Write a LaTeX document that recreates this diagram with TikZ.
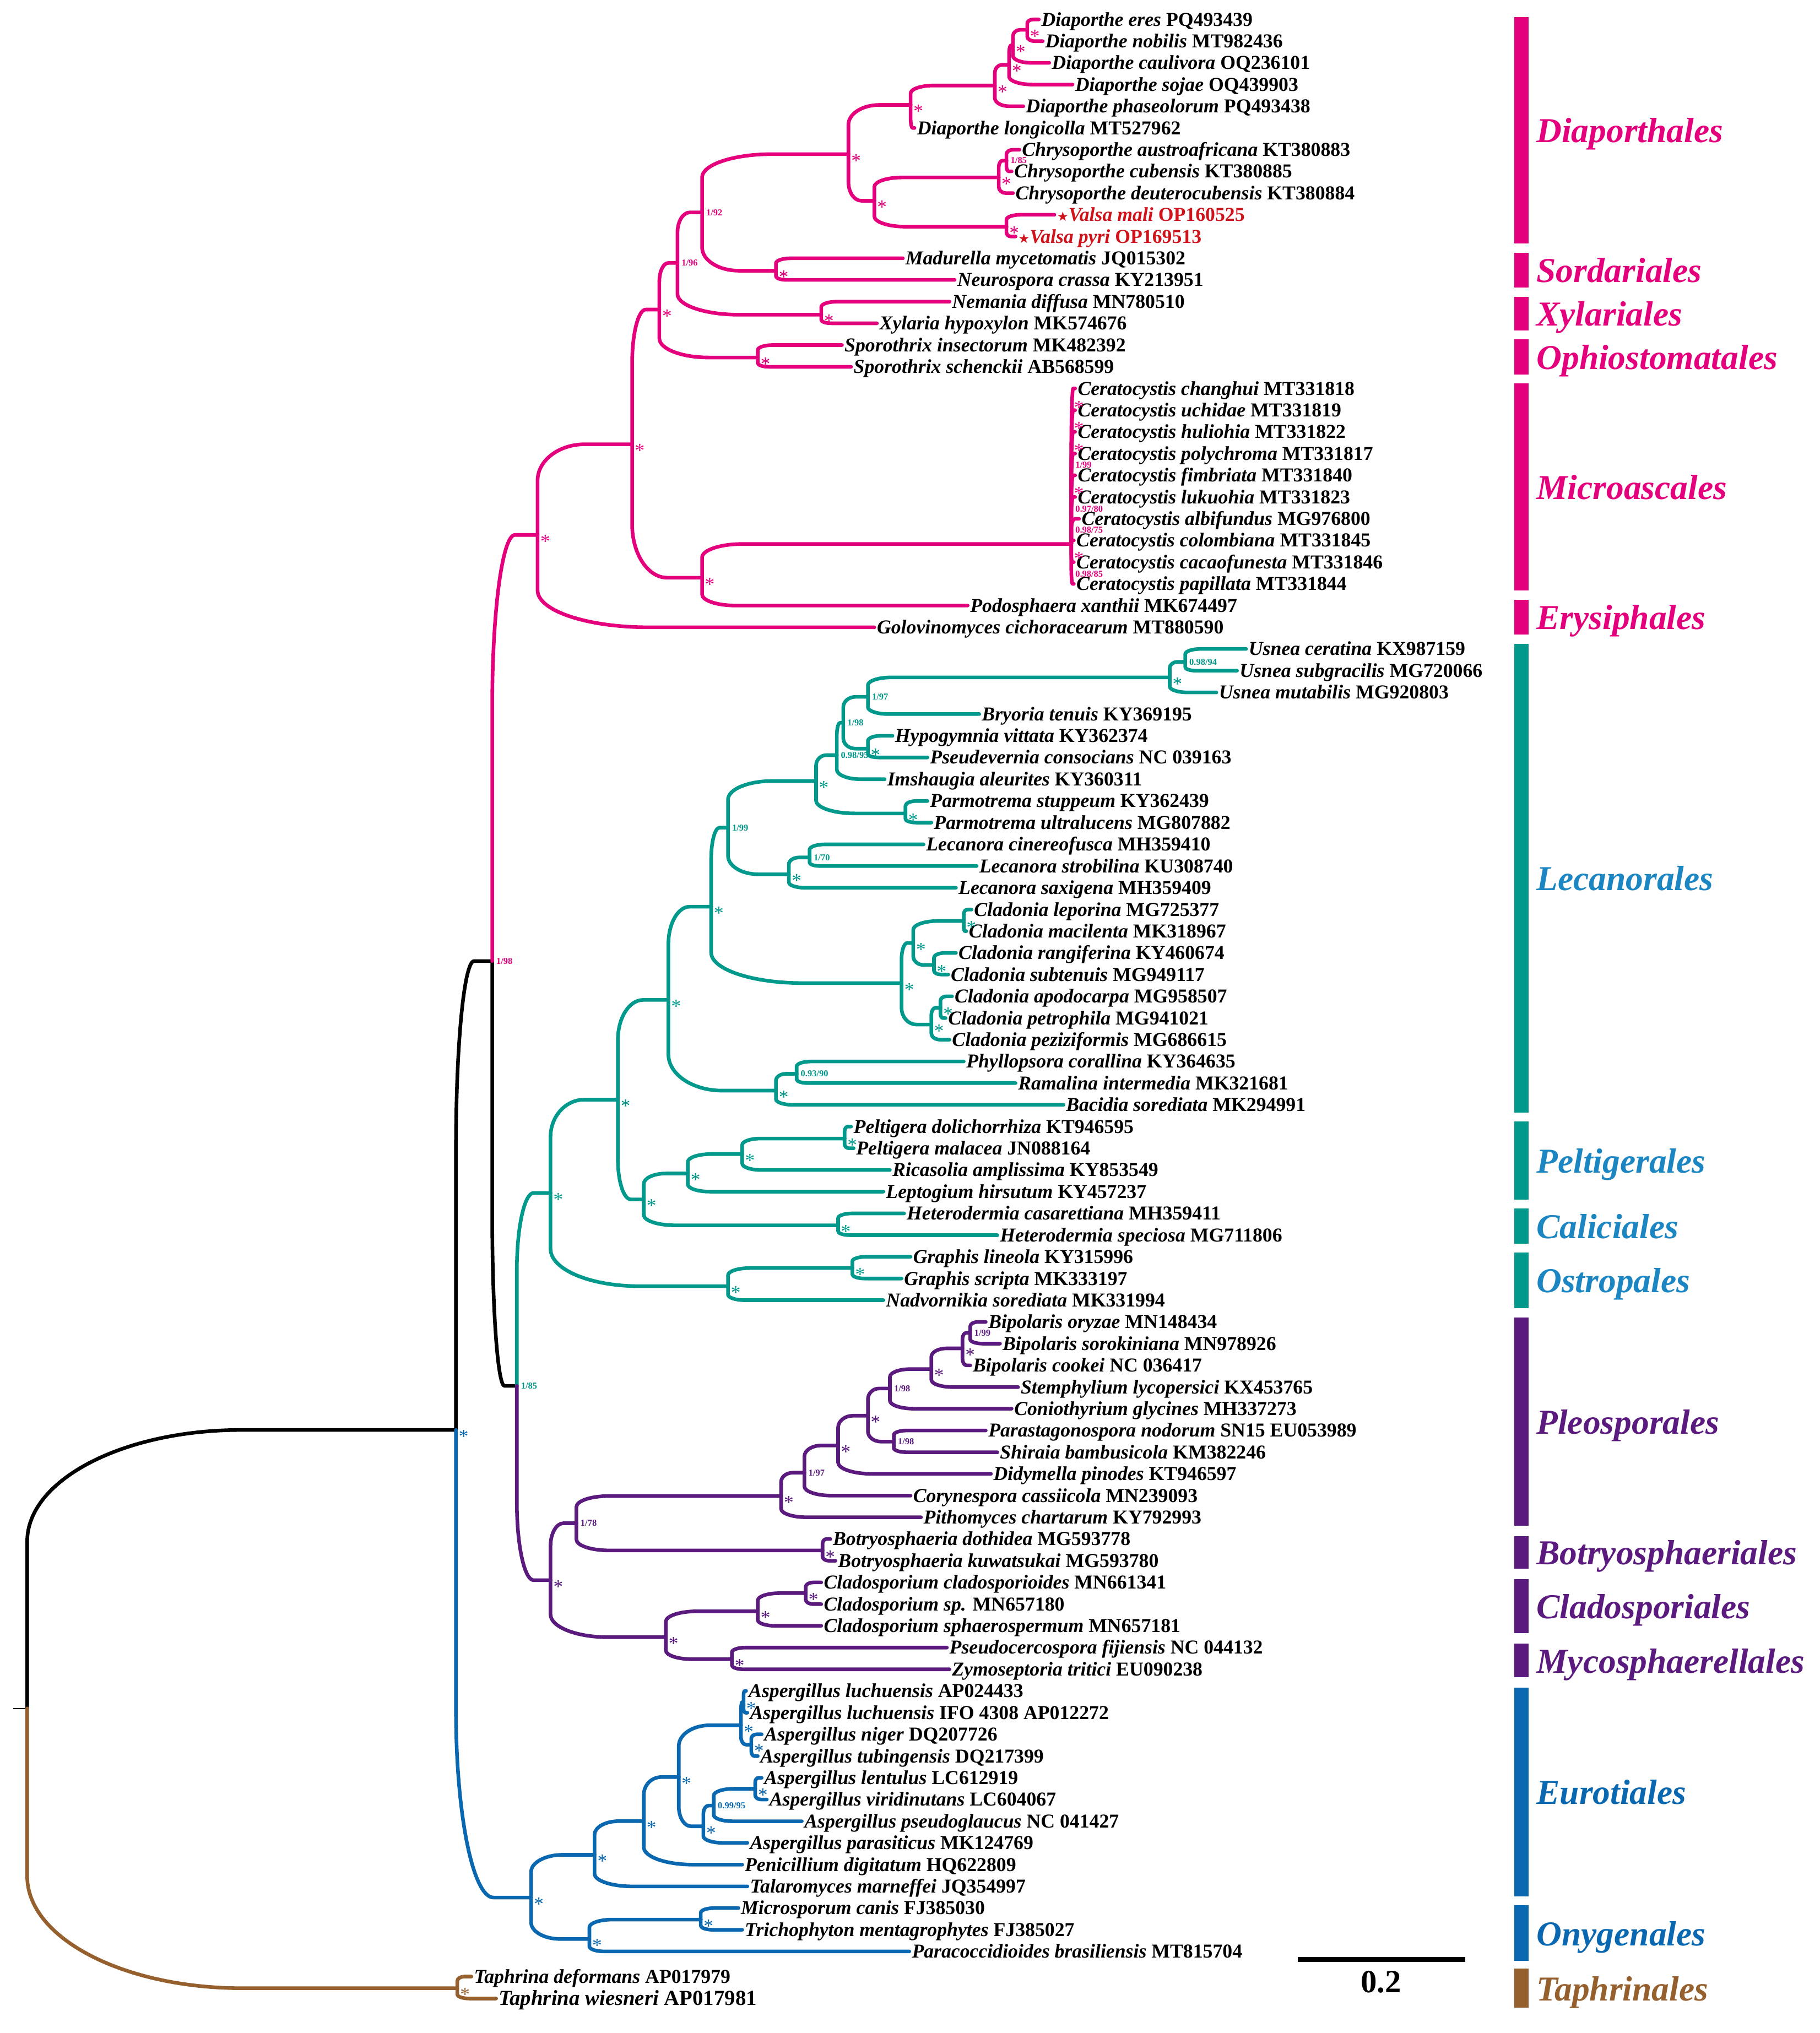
\documentclass[tikz,border=0pt]{standalone}
\usepackage{fontspec}
\setmainfont{Liberation Serif}
\newfontfamily\symf{DejaVu Sans}
\usetikzlibrary{calc}
\definecolor{cMag}{HTML}{E4007C}
\definecolor{cTeal}{HTML}{00998C}
\definecolor{cPur}{HTML}{5A1A7E}
\definecolor{cBlu}{HTML}{0A68B0}
\definecolor{cLbl}{HTML}{1C86C2}
\definecolor{cBrn}{HTML}{96602E}
\definecolor{cRed}{HTML}{D0121B}
\tikzset{
 br/.style={line width=2.8pt,line cap=round,line join=round},
 lf/.style={anchor=base west,inner sep=0pt,xshift=1.8pt,yshift=-5pt,font=\fontsize{15.2}{16}\selectfont\bfseries},
 ast/.style={anchor=west,inner sep=0pt,xshift=2pt,yshift=-5pt,font=\fontsize{15}{15}\selectfont},
 bs/.style={anchor=west,inner sep=0pt,xshift=3pt,font=\fontsize{7}{8}\selectfont\bfseries},
 ord/.style={anchor=base west,inner sep=0pt,font=\fontsize{27}{28}\selectfont\bfseries\itshape},
}
\newcommand\Edge[3][]{\draw[br,#1] let \p1=(#2), \p2=(#3), \n1={min(0.5*(\x2-\x1),1.2*abs(\y2-\y1))}, \n2={\y2-\y1} in
  (\p1) -- (\x1,{\y1+0.6*\n2}) .. controls (\x1,{\y2-0.1792*\n2}) and ({\x1+0.448*\n1},\y2) .. ({\x1+\n1},\y2) -- (\p2);}
\newcommand\Lf[5]{\coordinate (t#1) at (#2,#3); \node[lf] (l#1) at (t#1) {\textit{#4} #5};}
\newcommand\Ast[2]{\node[ast,text=#1] (s#2) at (#2) {*};}
\newcommand\Bs[3]{\node[bs,text=#1] (s#2) at (#2) {#3};}
\newcommand\Ord[5]{\fill[#4] (1169,#1) rectangle (1180,#2); \node[ord,text=#5] (o#3) at (1186,{(#1+#2)/2+9.5}) {#3};}
\begin{document}
\begin{tikzpicture}[x=1pt,y=-1pt]
\useasboundingbox (0,0) rectangle (1405,1569.6);
% ---------- internal nodes
\coordinate (rs) at (10,1319);
\coordinate (R) at (21,1319);
\coordinate (B) at (352,1104);
\coordinate (A) at (380,742);
\coordinate (D) at (399,1070);
\coordinate (P1) at (415,413);
\coordinate (P2) at (488,343);
\coordinate (P3) at (509,239);
\coordinate (P5) at (523,203);
\coordinate (P6) at (542,164);
\coordinate (DP) at (655,119);
\coordinate (ND) at (703,81);
\coordinate (ND2) at (768,66);
\coordinate (ND3) at (779,50);
\coordinate (ND4) at (782,35);
\coordinate (ND5) at (793,23);
\coordinate (CV) at (675,155);
\coordinate (CH) at (771,137);
\coordinate (CH2) at (777,124);
\coordinate (VA) at (777,175);
\coordinate (S) at (599,209);
\coordinate (X) at (634,243);
\coordinate (O) at (585,276);
\coordinate (P4) at (542,446);
\coordinate (M) at (827,420);
\coordinate (L1) at (425,921);
\coordinate (L2) at (477,849);
\coordinate (L3) at (516,772);
\coordinate (L4) at (497,926);
\coordinate (L5) at (549,700);
\coordinate (L6) at (599,842);
\coordinate (L6a) at (615,829);
\coordinate (L7) at (562,639);
\coordinate (L8) at (630,603);
\coordinate (L9) at (646,583);
\coordinate (L10) at (651,558);
\coordinate (L11) at (670,538);
\coordinate (U) at (903,523);
\coordinate (U2) at (915,511);
\coordinate (H) at (670,578);
\coordinate (PM) at (699,628);
\coordinate (LE) at (609,675);
\coordinate (LE2) at (625,662);
\coordinate (CL) at (696,759);
\coordinate (CL1) at (705,728);
\coordinate (CL1a) at (744,711);
\coordinate (CL1b) at (721,745);
\coordinate (CL2) at (719,791);
\coordinate (CL2a) at (726,778);
\coordinate (PE) at (531,906);
\coordinate (PE1) at (573,891);
\coordinate (PE2) at (652,879);
\coordinate (CA) at (647,946);
\coordinate (OS) at (562,993);
\coordinate (OS1) at (658,979);
\coordinate (PD) at (425,1220);
\coordinate (PD1) at (445,1176);
\coordinate (PL) at (603,1155);
\coordinate (PL1) at (621,1137);
\coordinate (PL2) at (647,1116);
\coordinate (PL3) at (670,1093);
\coordinate (PL4) at (687,1072);
\coordinate (PL5) at (690,1113);
\coordinate (PL6) at (719,1057);
\coordinate (BI) at (743,1041);
\coordinate (BI2) at (749,1029);
\coordinate (BO) at (635,1197);
\coordinate (PD2) at (514,1264);
\coordinate (CD) at (585,1244);
\coordinate (CD1) at (622,1230);
\coordinate (MY) at (565,1281);
\coordinate (E) at (410,1465);
\coordinate (Eu) at (459,1432);
\coordinate (Eu2) at (497,1406);
\coordinate (Eu3) at (524,1372);
\coordinate (AS1) at (572,1332);
\coordinate (AS5) at (574,1314);
\coordinate (AS6) at (580,1347);
\coordinate (AS2) at (543,1410);
\coordinate (AS3) at (551,1394);
\coordinate (AS4) at (583,1381);
\coordinate (On) at (455,1497);
\coordinate (On1) at (541,1482);
\coordinate (T) at (353,1535);
% ---------- leaves
\Lf{1}{802}{15.0}{Diaporthe eres}{PQ493439}
\Lf{2}{805}{31.8}{Diaporthe nobilis}{MT982436}
\Lf{3}{810}{48.5}{Diaporthe caulivora}{OQ236101}
\Lf{4}{828}{65.3}{Diaporthe sojae}{OQ439903}
\Lf{5}{790}{82.0}{Diaporthe phaseolorum}{PQ493438}
\Lf{6}{706}{98.8}{Diaporthe longicolla}{MT527962}
\Lf{7}{787}{115.6}{Chrysoporthe austroafricana}{KT380883}
\Lf{8}{781}{132.3}{Chrysoporthe cubensis}{KT380885}
\Lf{9}{782}{149.1}{Chrysoporthe deuterocubensis}{KT380884}
\coordinate (t10) at (814,165.8);
\node[lf,text=cRed] (l10) at (t10) {{\symf\fontsize{10}{10}\selectfont ★}\textit{Valsa mali} OP160525};
\coordinate (t11) at (784,182.6);
\node[lf,text=cRed] (l11) at (t11) {{\symf\fontsize{10}{10}\selectfont ★}\textit{Valsa pyri} OP169513};
\Lf{12}{697}{199.4}{Madurella mycetomatis}{JQ015302}
\Lf{13}{737}{216.1}{Neurospora crassa}{KY213951}
\Lf{14}{733}{232.9}{Nemania diffusa}{MN780510}
\Lf{15}{677}{249.6}{Xylaria hypoxylon}{MK574676}
\Lf{16}{650}{266.4}{Sporothrix insectorum}{MK482392}
\Lf{17}{657}{283.2}{Sporothrix schenckii}{AB568599}
\Lf{18}{830}{299.9}{Ceratocystis changhui}{MT331818}
\Lf{19}{830}{316.7}{Ceratocystis uchidae}{MT331819}
\Lf{20}{830}{333.4}{Ceratocystis huliohia}{MT331822}
\Lf{21}{830}{350.2}{Ceratocystis polychroma}{MT331817}
\Lf{22}{830}{367.0}{Ceratocystis fimbriata}{MT331840}
\Lf{23}{830}{383.7}{Ceratocystis lukuohia}{MT331823}
\Lf{24}{833}{400.5}{Ceratocystis albifundus}{MG976800}
\Lf{25}{829}{417.2}{Ceratocystis colombiana}{MT331845}
\Lf{26}{829}{434.0}{Ceratocystis cacaofunesta}{MT331846}
\Lf{27}{829}{450.8}{Ceratocystis papillata}{MT331844}
\Lf{28}{747}{467.5}{Podosphaera xanthii}{MK674497}
\Lf{29}{675}{484.3}{Golovinomyces cichoracearum}{MT880590}
\Lf{30}{962}{501.0}{Usnea ceratina}{KX987159}
\Lf{31}{955}{517.8}{Usnea subgracilis}{MG720066}
\Lf{32}{939}{534.6}{Usnea mutabilis}{MG920803}
\Lf{33}{756}{551.3}{Bryoria tenuis}{KY369195}
\Lf{34}{689}{568.1}{Hypogymnia vittata}{KY362374}
\Lf{35}{716}{584.8}{Pseudevernia consocians}{NC 039163}
\Lf{36}{683}{601.6}{Imshaugia aleurites}{KY360311}
\Lf{37}{716}{618.4}{Parmotrema stuppeum}{KY362439}
\Lf{38}{719}{635.1}{Parmotrema ultralucens}{MG807882}
\Lf{39}{713}{651.9}{Lecanora cinereofusca}{MH359410}
\Lf{40}{754}{668.6}{Lecanora strobilina}{KU308740}
\Lf{41}{738}{685.4}{Lecanora saxigena}{MH359409}
\Lf{42}{750}{702.2}{Cladonia leporina}{MG725377}
\Lf{43}{746}{718.9}{Cladonia macilenta}{MK318967}
\Lf{44}{738}{735.7}{Cladonia rangiferina}{KY460674}
\Lf{45}{732}{752.4}{Cladonia subtenuis}{MG949117}
\Lf{46}{735}{769.2}{Cladonia apodocarpa}{MG958507}
\Lf{47}{730}{786.0}{Cladonia petrophila}{MG941021}
\Lf{48}{733}{802.7}{Cladonia peziziformis}{MG686615}
\Lf{49}{744}{819.5}{Phyllopsora corallina}{KY364635}
\Lf{50}{784}{836.2}{Ramalina intermedia}{MK321681}
\Lf{51}{821}{853.0}{Bacidia sorediata}{MK294991}
\Lf{52}{657}{869.8}{Peltigera dolichorrhiza}{KT946595}
\Lf{53}{659}{886.5}{Peltigera malacea}{JN088164}
\Lf{54}{687}{903.3}{Ricasolia amplissima}{KY853549}
\Lf{55}{682}{920.0}{Leptogium hirsutum}{KY457237}
\Lf{56}{698}{936.8}{Heterodermia casarettiana}{MH359411}
\Lf{57}{770}{953.6}{Heterodermia speciosa}{MG711806}
\Lf{58}{703}{970.3}{Graphis lineola}{KY315996}
\Lf{59}{696}{987.1}{Graphis scripta}{MK333197}
\Lf{60}{682}{1003.8}{Nadvornikia sorediata}{MK331994}
\Lf{61}{761}{1020.6}{Bipolaris oryzae}{MN148434}
\Lf{62}{772}{1037.4}{Bipolaris sorokiniana}{MN978926}
\Lf{63}{749}{1054.1}{Bipolaris cookei}{NC 036417}
\Lf{64}{786}{1070.9}{Stemphylium lycopersici}{KX453765}
\Lf{65}{781}{1087.6}{Coniothyrium glycines}{MH337273}
\Lf{66}{761}{1104.4}{Parastagonospora nodorum}{SN15 EU053989}
\Lf{67}{770}{1121.2}{Shiraia bambusicola}{KM382246}
\Lf{68}{765}{1137.9}{Didymella pinodes}{KT946597}
\Lf{69}{703}{1154.7}{Corynespora cassiicola}{MN239093}
\Lf{70}{711}{1171.4}{Pithomyces chartarum}{KY792993}
\Lf{71}{641}{1188.2}{Botryosphaeria dothidea}{MG593778}
\Lf{72}{645}{1205.0}{Botryosphaeria kuwatsukai}{MG593780}
\Lf{73}{634}{1221.7}{Cladosporium cladosporioides}{MN661341}
\Lf{74}{634}{1238.5}{Cladosporium sp.}{MN657180}
\Lf{75}{634}{1255.2}{Cladosporium sphaerospermum}{MN657181}
\Lf{76}{731}{1272.0}{Pseudocercospora fijiensis}{NC 044132}
\Lf{77}{733}{1288.8}{Zymoseptoria tritici}{EU090238}
\Lf{78}{576}{1305.5}{Aspergillus luchuensis}{AP024433}
\Lf{79}{577}{1322.3}{Aspergillus luchuensis}{IFO 4308 AP012272}
\Lf{80}{588}{1339.0}{Aspergillus niger}{DQ207726}
\Lf{81}{585}{1355.8}{Aspergillus tubingensis}{DQ217399}
\Lf{82}{588}{1372.6}{Aspergillus lentulus}{LC612919}
\Lf{83}{592}{1389.3}{Aspergillus viridinutans}{LC604067}
\Lf{84}{619}{1406.1}{Aspergillus pseudoglaucus}{NC 041427}
\Lf{85}{577}{1422.8}{Aspergillus parasiticus}{MK124769}
\Lf{86}{573}{1439.6}{Penicillium digitatum}{HQ622809}
\Lf{87}{577}{1456.4}{Talaromyces marneffei}{JQ354997}
\Lf{88}{570}{1473.1}{Microsporum canis}{FJ385030}
\Lf{89}{573}{1489.9}{Trichophyton mentagrophytes}{FJ385027}
\Lf{90}{702}{1506.6}{Paracoccidioides brasiliensis}{MT815704}
\Lf{91}{364}{1526}{Taphrina deformans}{AP017979}
\coordinate (t92) at (383,1543);
\node[lf,font=\fontsize{16.5}{17}\selectfont\bfseries] (l92) at (t92) {\textit{Taphrina wiesneri} AP017981};
% ---------- edges: backbone
\draw[line width=1pt] (rs) -- (R);
\Edge{R}{B}
\Edge{B}{A}
\Edge{A}{D}
\Edge[cBrn]{R}{T}
\Edge[cBrn]{T}{t91}
\Edge[cBrn]{T}{t92}
% magenta
\Edge[cMag]{A}{P1}
\Edge[cMag]{P1}{P2}
\Edge[cMag]{P1}{t29}
\Edge[cMag]{P2}{P3}
\Edge[cMag]{P2}{P4}
\Edge[cMag]{P3}{P5}
\Edge[cMag]{P3}{O}
\Edge[cMag]{P5}{P6}
\Edge[cMag]{P5}{X}
\Edge[cMag]{P6}{DP}
\Edge[cMag]{P6}{S}
\Edge[cMag]{DP}{ND}
\Edge[cMag]{DP}{CV}
\Edge[cMag]{ND}{ND2}
\Edge[cMag]{ND}{t6}
\Edge[cMag]{ND2}{ND3}
\Edge[cMag]{ND2}{t5}
\Edge[cMag]{ND3}{ND4}
\Edge[cMag]{ND3}{t4}
\Edge[cMag]{ND4}{ND5}
\Edge[cMag]{ND4}{t3}
\Edge[cMag]{ND5}{t1}
\Edge[cMag]{ND5}{t2}
\Edge[cMag]{CV}{CH}
\Edge[cMag]{CV}{VA}
\Edge[cMag]{CH}{CH2}
\Edge[cMag]{CH}{t9}
\Edge[cMag]{CH2}{t7}
\Edge[cMag]{CH2}{t8}
\Edge[cMag]{VA}{t10}
\Edge[cMag]{VA}{t11}
\Edge[cMag]{S}{t12}
\Edge[cMag]{S}{t13}
\Edge[cMag]{X}{t14}
\Edge[cMag]{X}{t15}
\Edge[cMag]{O}{t16}
\Edge[cMag]{O}{t17}
\Edge[cMag]{P4}{M}
\Edge[cMag]{P4}{t28}
\foreach \i in {18,...,27} {\Edge[cMag]{M}{t\i}}
% teal
\Edge[cTeal]{D}{L1}
\Edge[cTeal]{L1}{L2}
\Edge[cTeal]{L1}{OS}
\Edge[cTeal]{L2}{L3}
\Edge[cTeal]{L2}{L4}
\Edge[cTeal]{L3}{L5}
\Edge[cTeal]{L3}{L6}
\Edge[cTeal]{L5}{L7}
\Edge[cTeal]{L5}{CL}
\Edge[cTeal]{L7}{L8}
\Edge[cTeal]{L7}{LE}
\Edge[cTeal]{L8}{L9}
\Edge[cTeal]{L8}{PM}
\Edge[cTeal]{L9}{L10}
\Edge[cTeal]{L9}{t36}
\Edge[cTeal]{L10}{L11}
\Edge[cTeal]{L10}{H}
\Edge[cTeal]{L11}{U}
\Edge[cTeal]{L11}{t33}
\Edge[cTeal]{U}{U2}
\Edge[cTeal]{U}{t32}
\Edge[cTeal]{U2}{t30}
\Edge[cTeal]{U2}{t31}
\Edge[cTeal]{H}{t34}
\Edge[cTeal]{H}{t35}
\Edge[cTeal]{PM}{t37}
\Edge[cTeal]{PM}{t38}
\Edge[cTeal]{LE}{LE2}
\Edge[cTeal]{LE}{t41}
\Edge[cTeal]{LE2}{t39}
\Edge[cTeal]{LE2}{t40}
\Edge[cTeal]{CL}{CL1}
\Edge[cTeal]{CL}{CL2}
\Edge[cTeal]{CL1}{CL1a}
\Edge[cTeal]{CL1}{CL1b}
\Edge[cTeal]{CL1a}{t42}
\Edge[cTeal]{CL1a}{t43}
\Edge[cTeal]{CL1b}{t44}
\Edge[cTeal]{CL1b}{t45}
\Edge[cTeal]{CL2}{CL2a}
\Edge[cTeal]{CL2}{t48}
\Edge[cTeal]{CL2a}{t46}
\Edge[cTeal]{CL2a}{t47}
\Edge[cTeal]{L6}{L6a}
\Edge[cTeal]{L6}{t51}
\Edge[cTeal]{L6a}{t49}
\Edge[cTeal]{L6a}{t50}
\Edge[cTeal]{L4}{PE}
\Edge[cTeal]{L4}{CA}
\Edge[cTeal]{PE}{PE1}
\Edge[cTeal]{PE}{t55}
\Edge[cTeal]{PE1}{PE2}
\Edge[cTeal]{PE1}{t54}
\Edge[cTeal]{PE2}{t52}
\Edge[cTeal]{PE2}{t53}
\Edge[cTeal]{CA}{t56}
\Edge[cTeal]{CA}{t57}
\Edge[cTeal]{OS}{OS1}
\Edge[cTeal]{OS}{t60}
\Edge[cTeal]{OS1}{t58}
\Edge[cTeal]{OS1}{t59}
% purple
\Edge[cPur]{D}{PD}
\Edge[cPur]{PD}{PD1}
\Edge[cPur]{PD}{PD2}
\Edge[cPur]{PD1}{PL}
\Edge[cPur]{PD1}{BO}
\Edge[cPur]{PL}{PL1}
\Edge[cPur]{PL}{t70}
\Edge[cPur]{PL1}{PL2}
\Edge[cPur]{PL1}{t69}
\Edge[cPur]{PL2}{PL3}
\Edge[cPur]{PL2}{t68}
\Edge[cPur]{PL3}{PL4}
\Edge[cPur]{PL3}{PL5}
\Edge[cPur]{PL4}{PL6}
\Edge[cPur]{PL4}{t65}
\Edge[cPur]{PL6}{BI}
\Edge[cPur]{PL6}{t64}
\Edge[cPur]{BI}{BI2}
\Edge[cPur]{BI}{t63}
\Edge[cPur]{BI2}{t61}
\Edge[cPur]{BI2}{t62}
\Edge[cPur]{PL5}{t66}
\Edge[cPur]{PL5}{t67}
\Edge[cPur]{BO}{t71}
\Edge[cPur]{BO}{t72}
\Edge[cPur]{PD2}{CD}
\Edge[cPur]{PD2}{MY}
\Edge[cPur]{CD}{CD1}
\Edge[cPur]{CD}{t75}
\Edge[cPur]{CD1}{t73}
\Edge[cPur]{CD1}{t74}
\Edge[cPur]{MY}{t76}
\Edge[cPur]{MY}{t77}
% blue
\Edge[cBlu]{B}{E}
\Edge[cBlu]{E}{Eu}
\Edge[cBlu]{E}{On}
\Edge[cBlu]{Eu}{Eu2}
\Edge[cBlu]{Eu}{t87}
\Edge[cBlu]{Eu2}{Eu3}
\Edge[cBlu]{Eu2}{t86}
\Edge[cBlu]{Eu3}{AS1}
\Edge[cBlu]{Eu3}{AS2}
\Edge[cBlu]{AS1}{AS5}
\Edge[cBlu]{AS1}{AS6}
\Edge[cBlu]{AS5}{t78}
\Edge[cBlu]{AS5}{t79}
\Edge[cBlu]{AS6}{t80}
\Edge[cBlu]{AS6}{t81}
\Edge[cBlu]{AS2}{AS3}
\Edge[cBlu]{AS2}{t85}
\Edge[cBlu]{AS3}{AS4}
\Edge[cBlu]{AS3}{t84}
\Edge[cBlu]{AS4}{t82}
\Edge[cBlu]{AS4}{t83}
\Edge[cBlu]{On}{On1}
\Edge[cBlu]{On}{t90}
\Edge[cBlu]{On1}{t88}
\Edge[cBlu]{On1}{t89}
% ---------- support values
\Bs{cMag}{A}{1/98}
\Ast{cMag}{P1}\Ast{cMag}{P2}\Ast{cMag}{P3}
\Bs{cMag}{P5}{1/96}\Bs{cMag}{P6}{1/92}
\Ast{cMag}{DP}\Ast{cMag}{ND}\Ast{cMag}{ND2}\Ast{cMag}{ND3}\Ast{cMag}{ND4}\Ast{cMag}{ND5}
\Ast{cMag}{CV}\Ast{cMag}{CH}\Bs{cMag}{CH2}{1/85}\Ast{cMag}{VA}
\Ast{cMag}{S}\Ast{cMag}{X}\Ast{cMag}{O}\Ast{cMag}{P4}
\coordinate (m1) at (827,309.5);\coordinate (m2) at (827,326);\coordinate (m3) at (827,343);
\coordinate (m4) at (827,359);\coordinate (m5) at (827,376);\coordinate (m6) at (827,393);
\coordinate (m7) at (827,409);\coordinate (m8) at (827,426);\coordinate (m9) at (827,443);
\Ast{cMag}{m1}\Ast{cMag}{m2}\Ast{cMag}{m3}\Bs{cMag}{m4}{1/99}\Ast{cMag}{m5}
\Bs{cMag}{m6}{0.97/80}\Bs{cMag}{m7}{0.98/75}\Ast{cMag}{m8}\Bs{cMag}{m9}{0.98/85}
\Bs{cTeal}{D}{1/85}
\Ast{cTeal}{L1}\Ast{cTeal}{L2}\Ast{cTeal}{L3}\Ast{cTeal}{L4}\Ast{cTeal}{L5}\Ast{cTeal}{L6}
\Bs{cTeal}{L6a}{0.93/90}\Bs{cTeal}{L7}{1/99}\Ast{cTeal}{L8}\Bs{cTeal}{L9}{0.98/95}
\Bs{cTeal}{L10}{1/98}\Bs{cTeal}{L11}{1/97}\Ast{cTeal}{U}\Bs{cTeal}{U2}{0.98/94}
\Ast{cTeal}{H}\Ast{cTeal}{PM}\Ast{cTeal}{LE}\Bs{cTeal}{LE2}{1/70}
\Ast{cTeal}{CL}\Ast{cTeal}{CL1}\Ast{cTeal}{CL1a}\Ast{cTeal}{CL1b}\Ast{cTeal}{CL2}\Ast{cTeal}{CL2a}
\Ast{cTeal}{PE}\Ast{cTeal}{PE1}\Ast{cTeal}{PE2}\Ast{cTeal}{CA}\Ast{cTeal}{OS}\Ast{cTeal}{OS1}
\Ast{cPur}{PD}\Bs{cPur}{PD1}{1/78}\Ast{cPur}{PL}\Bs{cPur}{PL1}{1/97}\Ast{cPur}{PL2}\Ast{cPur}{PL3}
\Bs{cPur}{PL4}{1/98}\Bs{cPur}{PL5}{1/98}\Ast{cPur}{PL6}\Ast{cPur}{BI}\Bs{cPur}{BI2}{1/99}
\Ast{cPur}{BO}\Ast{cPur}{PD2}\Ast{cPur}{CD}\Ast{cPur}{CD1}\Ast{cPur}{MY}
\Ast{cBlu}{B}\Ast{cBlu}{E}\Ast{cBlu}{Eu}\Ast{cBlu}{Eu2}\Ast{cBlu}{Eu3}\Ast{cBlu}{AS1}\Ast{cBlu}{AS5}
\Ast{cBlu}{AS6}\Ast{cBlu}{AS2}\Bs{cBlu}{AS3}{0.99/95}\Ast{cBlu}{AS4}\Ast{cBlu}{On}\Ast{cBlu}{On1}
\Ast{cBrn}{T}
% ---------- scale bar
\coordinate (sb1) at (1002,1513);
\coordinate (sb2) at (1131,1513);
\draw[line width=3.8pt] (sb1) -- (sb2);
\node[font=\fontsize{25}{26}\selectfont\bfseries,inner sep=0pt] (sbl) at (1066,1530) {0.2};
% ---------- order bars
\Ord{13}{188}{Diaporthales}{cMag}{cMag}
\Ord{195}{222}{Sordariales}{cMag}{cMag}
\Ord{229}{255}{Xylariales}{cMag}{cMag}
\Ord{262}{289}{Ophiostomatales}{cMag}{cMag}
\Ord{296}{456}{Microascales}{cMag}{cMag}
\Ord{463}{490}{Erysiphales}{cMag}{cMag}
\Ord{497}{859}{Lecanorales}{cTeal}{cLbl}
\Ord{866}{926}{Peltigerales}{cTeal}{cLbl}
\Ord{933}{960}{Caliciales}{cTeal}{cLbl}
\Ord{967}{1010}{Ostropales}{cTeal}{cLbl}
\Ord{1017}{1178}{Pleosporales}{cPur}{cPur}
\Ord{1186}{1211}{Botryosphaeriales}{cPur}{cPur}
\Ord{1219}{1261}{Cladosporiales}{cPur}{cPur}
\Ord{1269}{1295}{Mycosphaerellales}{cPur}{cPur}
\Ord{1303}{1464}{Eurotiales}{cBlu}{cBlu}
\Ord{1471}{1514}{Onygenales}{cBlu}{cBlu}
\Ord{1520}{1550}{Taphrinales}{cBrn}{cBrn}
\end{tikzpicture}
\end{document}
